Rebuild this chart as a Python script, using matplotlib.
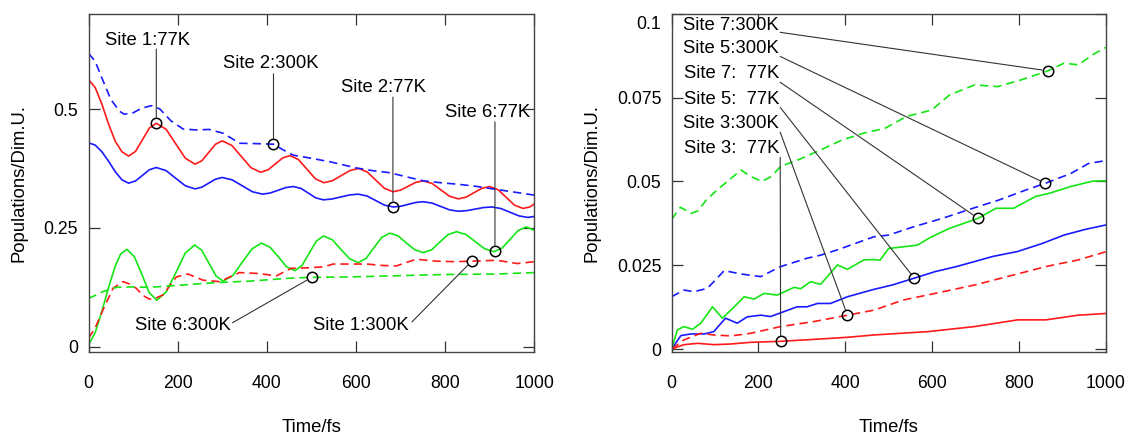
import numpy as np
import matplotlib
matplotlib.use("Agg")
import matplotlib.pyplot as plt
import matplotlib.transforms as mtransforms

plt.rcParams['font.family'] = ['Liberation Sans', 'DejaVu Sans']

RED, GREEN, BLUE = '#ff1a1a', '#14e614', '#1a1aff'

# ---------------- left panel: sites 1, 2, 6 ----------------
t_s1_77 = [0, 15, 30, 45, 60, 75, 90, 105.5, 121, 136.5, 152, 174, 195.5, 217, 239, 254, 269.5, 285, 300,
           321.5, 343, 364.5, 386, 402.5, 419, 435.5, 452, 471, 490, 509, 528, 547.5, 567, 586.5, 606,
           625, 644.5, 664, 683, 700, 717, 734, 751, 771, 790.5, 810, 830, 847.5, 865, 882.5, 900,
           919, 937.5, 956, 975, 990, 1000]
p_s1_77 = [0.562, 0.545, 0.510, 0.468, 0.432, 0.410, 0.401, 0.411, 0.4355, 0.460, 0.470, 0.4574, 0.427,
           0.3966, 0.384, 0.391, 0.4085, 0.426, 0.433, 0.4234, 0.400, 0.3766, 0.367, 0.372, 0.3845, 0.397,
           0.402, 0.3937, 0.3735, 0.3533, 0.345, 0.3494, 0.360, 0.3706, 0.375, 0.3678, 0.3505, 0.3332,
           0.326, 0.3294, 0.3375, 0.3456, 0.349, 0.3434, 0.330, 0.3166, 0.311, 0.3148, 0.324, 0.3332,
           0.337, 0.3303, 0.314, 0.2977, 0.291, 0.294, 0.300]

t_s2_77 = [0, 15, 30, 45, 60, 75, 90, 105.5, 121, 136.5, 152, 174, 195.5, 217, 239, 254, 269.5, 285, 300,
           322.5, 345, 367.5, 390, 407.5, 425, 442.5, 460, 477, 493.5, 510, 527, 546.5, 566, 585.5, 605,
           625, 644.5, 664, 684, 701, 717.5, 734, 751, 771, 790.5, 810, 830, 849, 867.5, 886, 905,
           925, 945.5, 966, 986, 1000]
p_s2_77 = [0.429, 0.424, 0.410, 0.390, 0.368, 0.351, 0.344, 0.3488, 0.3605, 0.3722, 0.377, 0.3704, 0.3545,
           0.3386, 0.332, 0.3355, 0.344, 0.3525, 0.356, 0.3509, 0.3385, 0.3261, 0.321, 0.3233, 0.329,
           0.3347, 0.337, 0.3329, 0.323, 0.3131, 0.309, 0.3108, 0.315, 0.3192, 0.321, 0.3171, 0.3075,
           0.2979, 0.294, 0.2956, 0.2995, 0.3034, 0.305, 0.3021, 0.295, 0.2879, 0.285, 0.2863, 0.2895,
           0.2927, 0.294, 0.2908, 0.283, 0.2752, 0.272, 0.274]

t_s2_300 = [0, 15, 30, 50, 70, 80, 100, 120, 141, 160, 185, 212, 240, 271, 302, 339, 384, 415, 435, 459,
            490, 542, 601, 640, 676, 715, 751, 790, 826, 865, 900, 950, 1000]
p_s2_300 = [0.617, 0.600, 0.565, 0.520, 0.495, 0.489, 0.492, 0.502, 0.507, 0.500, 0.475, 0.458, 0.456, 0.457,
            0.449, 0.428, 0.427, 0.426, 0.415, 0.403, 0.398, 0.389, 0.376, 0.370, 0.366, 0.357, 0.349, 0.345,
            0.342, 0.338, 0.333, 0.326, 0.319]

t_s6_77 = [0, 15, 30, 45, 60, 72, 86, 103, 120, 136, 153, 174, 196, 217, 238, 254, 270, 286, 302, 324, 345,
           367, 388, 407, 426, 444, 463, 479, 495, 511, 527, 547, 566, 586, 605, 623, 640, 658, 676, 695,
           713, 732, 751, 770, 788, 807, 826, 847, 868, 889, 910, 928, 946, 964, 982, 1000]
p_s6_77 = [0.004, 0.030, 0.075, 0.125, 0.170, 0.195, 0.205, 0.189, 0.1515, 0.114, 0.098, 0.115, 0.156,
           0.197, 0.214, 0.203, 0.176, 0.149, 0.138, 0.150, 0.178, 0.206, 0.218, 0.2095, 0.189, 0.1685,
           0.160, 0.171, 0.1965, 0.222, 0.233, 0.225, 0.205, 0.185, 0.177, 0.186, 0.208, 0.230, 0.239,
           0.233, 0.2185, 0.204, 0.198, 0.204, 0.220, 0.236, 0.242, 0.236, 0.221, 0.206, 0.200, 0.2076,
           0.226, 0.2444, 0.252, 0.245]

t_s1_300 = [0, 15, 32, 55, 77, 92, 107, 122, 137, 152, 167, 182, 197, 223, 257, 294, 315, 339, 384, 421, 455,
            490, 527, 549, 590, 624, 660, 691, 715, 736, 781, 820, 860, 916, 962, 1000]
p_s1_300 = [0.018, 0.040, 0.077, 0.123, 0.137, 0.132, 0.123, 0.108, 0.100, 0.103, 0.109, 0.128, 0.147, 0.153,
            0.140, 0.137, 0.146, 0.156, 0.154, 0.149, 0.165, 0.166, 0.168, 0.174, 0.174, 0.174, 0.171, 0.170,
            0.178, 0.184, 0.180, 0.179, 0.180, 0.182, 0.175, 0.179]

t_s6_300 = [0, 15, 32, 62, 100, 137, 212, 287, 361, 447, 501, 590, 676, 800, 916, 1000]
p_s6_300 = [0.102, 0.108, 0.116, 0.125, 0.126, 0.125, 0.130, 0.135, 0.138, 0.144, 0.146, 0.147, 0.149, 0.152,
            0.153, 0.156]

# ---------------- right panel: sites 3, 5, 7 ----------------
t_s7_300 = [0, 20, 45, 60, 80, 105, 128, 160, 182, 208, 230, 251, 294, 343, 393, 442, 492, 541, 599, 640, 698,
            751, 805, 867, 904, 937, 970, 1000]
p_s7_300 = [0.0387, 0.0423, 0.0405, 0.0412, 0.0445, 0.0475, 0.0500, 0.0534, 0.0515, 0.0500, 0.0515, 0.0545,
            0.0566, 0.0594, 0.0624, 0.0644, 0.0659, 0.0694, 0.0713, 0.0758, 0.0788, 0.0783, 0.0803, 0.0830,
            0.0853, 0.0848, 0.0878, 0.0900]

t_s5_300 = [0, 28, 51, 82, 100, 121, 159, 205, 251, 312, 343, 382, 466, 500, 558, 624, 694, 755, 813, 862,
            920, 961, 1000]
p_s5_300 = [0.0156, 0.0176, 0.0171, 0.0181, 0.0205, 0.0234, 0.0224, 0.0216, 0.0246, 0.0271, 0.0280, 0.0296,
            0.0335, 0.0340, 0.0365, 0.0390, 0.0420, 0.0445, 0.0473, 0.0495, 0.0524, 0.0554, 0.0562]

t_s7_77 = [0, 13, 28, 48, 67, 94, 117, 144, 167, 190, 213, 243, 282, 297, 320, 343, 382, 405, 443, 466, 480,
           500, 566, 599, 640, 673, 706, 747, 788, 838, 871, 920, 970, 1000]
p_s7_77 = [0.0, 0.0057, 0.0067, 0.0059, 0.0077, 0.0126, 0.0092, 0.0126, 0.0156, 0.0149, 0.0166, 0.0161,
           0.0184, 0.0180, 0.0201, 0.0193, 0.0251, 0.0238, 0.0266, 0.0267, 0.0265, 0.0300, 0.0310, 0.0335,
           0.0360, 0.0375, 0.0390, 0.0420, 0.0420, 0.0455, 0.0465, 0.0485, 0.0501, 0.0502]

t_s5_77 = [0, 21, 44, 75, 97, 124, 151, 174, 205, 228, 251, 289, 312, 336, 366, 405, 466, 508, 558, 607, 656,
           698, 739, 797, 854, 904, 953, 1000]
p_s5_77 = [0.0, 0.0040, 0.0045, 0.0045, 0.0052, 0.0092, 0.0077, 0.0096, 0.0101, 0.0097, 0.0108, 0.0126,
           0.0126, 0.0136, 0.0136, 0.0156, 0.0178, 0.0191, 0.0211, 0.0231, 0.0246, 0.0261, 0.0276, 0.0291,
           0.0315, 0.0340, 0.0357, 0.0370]

t_s3_300 = [0, 28, 67, 97, 136, 182, 251, 328, 405, 466, 533, 607, 698, 788, 862, 937, 1000]
p_s3_300 = [0.0, 0.0027, 0.0047, 0.0042, 0.0039, 0.0047, 0.0067, 0.0082, 0.0101, 0.0116, 0.0146, 0.0166,
            0.0191, 0.0221, 0.0246, 0.0266, 0.0290]

t_s3_77 = [0, 28, 60, 97, 136, 182, 251, 343, 405, 467, 591, 698, 797, 862, 937, 1000]
p_s3_77 = [0.0, 0.0013, 0.0017, 0.0013, 0.0015, 0.0020, 0.0023, 0.0030, 0.0035, 0.0042, 0.0052, 0.0067,
           0.0087, 0.0087, 0.0101, 0.0106]

# labels: text, text position, leader start, marker time on the curve
left_labels = ["Site 1:77K", "Site 2:300K", "Site 2:77K", "Site 6:77K", "Site 6:300K", "Site 1:300K"]
left_text_x = [38, 302, 567, 799, 104, 503]
left_text_y = [0.645, 0.595, 0.546, 0.493, 0.0456, 0.0456]
left_line_x = [152, 415, 683, 912, 323, 726]
left_line_y = [0.626, 0.574, 0.525, 0.473, 0.0505, 0.0526]
left_mark_t = [152, 415, 683, 912, 501, 860]

right_labels = ["Site 7:300K", "Site 5:300K", "Site 7:  77K", "Site 5:  77K", "Site 3:300K", "Site 3:  77K"]
right_text_x = 247
right_text_y = [0.0965, 0.0896, 0.0821, 0.0746, 0.0672, 0.0597]
right_line_x = 250
right_line_y = [0.0945, 0.0873, 0.0796, 0.0721, 0.0647, 0.0572]
right_mark_t = [867, 861, 706, 559, 405, 251]

FS = 13.3
DASH = (5, 3)

fig = plt.figure(figsize=(11.31, 4.34), dpi=100)
axL = fig.add_axes([0.0783, 0.190, 0.394, 0.778])
axR = fig.add_axes([0.5939, 0.190, 0.3837, 0.778])


def style_axes(ax, yticks, ylabels, ylim, label_x):
    ax.set_xlim(0, 1000)
    ax.set_ylim(*ylim)
    ax.set_xticks([0, 200, 400, 600, 800, 1000])
    ax.set_yticks(yticks)
    ax.set_yticklabels(ylabels)
    ax.tick_params(direction='in', length=8, width=0.9, color='#333333', top=True, right=True,
                   labelsize=12.7)
    ax.tick_params(axis='x', pad=17)
    ax.tick_params(axis='y', pad=7.5)
    for s in ax.spines.values():
        s.set_color('#444444')
        s.set_linewidth(1.0)
    ax.set_xlabel('Time/fs', fontsize=FS, va='center')
    ax.xaxis.set_label_coords(0.5, -0.224)
    ax.set_ylabel('Populations/Dim.U.', fontsize=FS, va='center')
    ax.yaxis.set_label_coords(label_x, 0.5)


def leader(ax, x0, y0, t, tc, pc):
    yc = np.interp(t, tc, pc)
    ax.annotate('', xy=(t, yc), xytext=(x0, y0),
                arrowprops=dict(arrowstyle='-', color='#333333', lw=0.8, shrinkA=0, shrinkB=4.3))
    ax.plot([t], [yc], 'o', ms=7.5, mfc='none', mec='black', mew=1.1, zorder=5)


# left panel
axL.plot(t_s1_77, p_s1_77, color=RED, lw=1.2)
axL.plot(t_s2_77, p_s2_77, color=BLUE, lw=1.2)
axL.plot(t_s6_77, p_s6_77, color=GREEN, lw=1.2)
axL.plot(t_s1_300, p_s1_300, color=RED, lw=1.2, dashes=DASH)
axL.plot(t_s2_300, p_s2_300, color=BLUE, lw=1.2, dashes=DASH)
axL.plot(t_s6_300, p_s6_300, color=GREEN, lw=1.2, dashes=DASH)

left_curves = [(t_s1_77, p_s1_77), (t_s2_300, p_s2_300), (t_s2_77, p_s2_77),
               (t_s6_77, p_s6_77), (t_s6_300, p_s6_300), (t_s1_300, p_s1_300)]
for i, lab in enumerate(left_labels):
    axL.text(left_text_x[i], left_text_y[i], lab, fontsize=FS, ha='left', va='center')
    leader(axL, left_line_x[i], left_line_y[i], left_mark_t[i], *left_curves[i])

style_axes(axL, [0, 0.25, 0.5], ['0', '0.25', '0.5'], (-0.010, 0.700), -0.155)

# right panel
axR.plot(t_s3_77, p_s3_77, color=RED, lw=1.2)
axR.plot(t_s5_77, p_s5_77, color=BLUE, lw=1.2)
axR.plot(t_s7_77, p_s7_77, color=GREEN, lw=1.2)
axR.plot(t_s3_300, p_s3_300, color=RED, lw=1.2, dashes=DASH)
axR.plot(t_s5_300, p_s5_300, color=BLUE, lw=1.2, dashes=DASH)
axR.plot(t_s7_300, p_s7_300, color=GREEN, lw=1.2, dashes=DASH)

right_curves = [(t_s7_300, p_s7_300), (t_s5_300, p_s5_300), (t_s7_77, p_s7_77),
                (t_s5_77, p_s5_77), (t_s3_300, p_s3_300), (t_s3_77, p_s3_77)]
for i, lab in enumerate(right_labels):
    axR.text(right_text_x, right_text_y[i], lab, fontsize=FS, ha='right', va='center')
    leader(axR, right_line_x, right_line_y[i], right_mark_t[i], *right_curves[i])

style_axes(axR, [0, 0.025, 0.05, 0.075, 0.1], ['0', '0.025', '0.05', '0.075', '0.1'],
           (-0.00075, 0.1), -0.184)

# the top label sits a little below its tick
top_lab = axR.get_yticklabels()[-1]
top_lab.set_transform(top_lab.get_transform() + mtransforms.ScaledTranslation(0, -6 / 72, fig.dpi_scale_trans))

fig.savefig('out.png', dpi=100)
